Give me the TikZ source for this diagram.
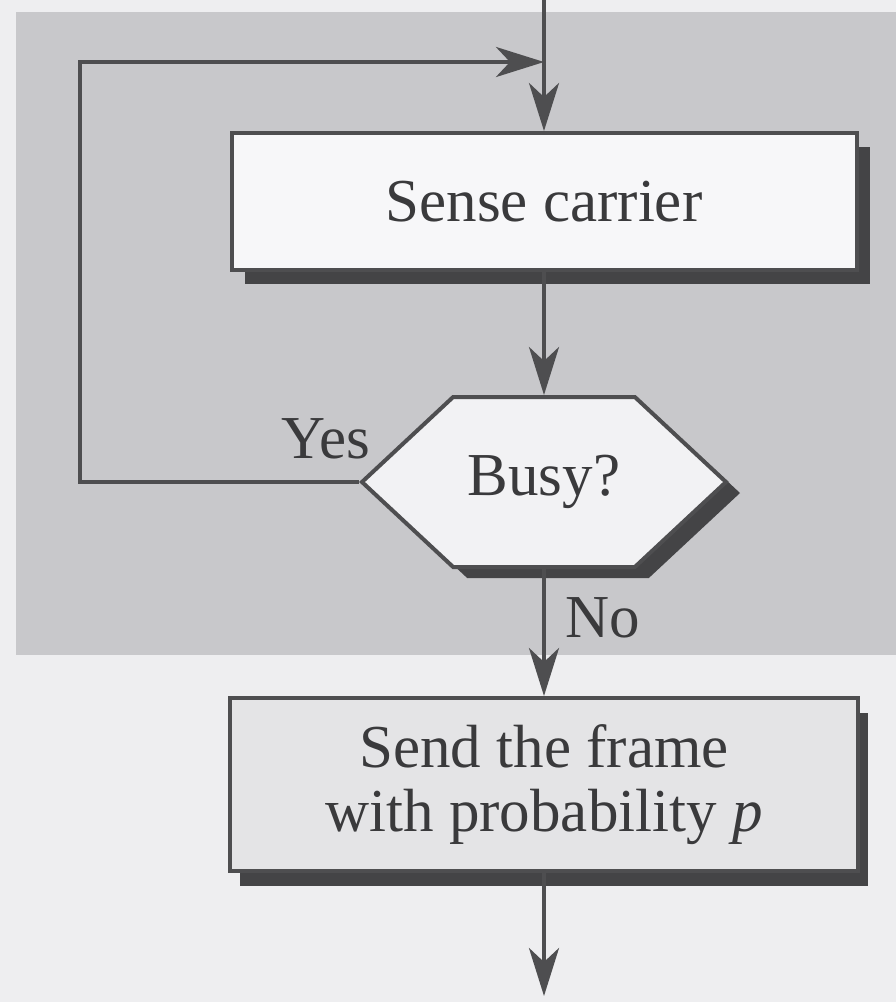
\documentclass[tikz,border=0pt]{standalone}
\usepackage{fontspec}
\setmainfont{Liberation Serif}
\usetikzlibrary{arrows.meta,shapes.symbols,shadows}

\definecolor{paper}{RGB}{238,238,240}
\definecolor{band}{RGB}{200,200,203}
\definecolor{inkc}{RGB}{58,58,60}
\definecolor{linec}{RGB}{78,78,80}
\definecolor{shadowc}{RGB}{68,68,70}
\definecolor{boxwhite}{RGB}{247,247,249}
\definecolor{hexfill}{RGB}{242,242,244}
\definecolor{sendfill}{RGB}{228,228,230}

\tikzset{
  flowtext/.style={text=inkc, font=\fontsize{61}{64}\selectfont},
  procbox/.style={flowtext, draw=linec, line width=4pt, inner sep=0pt, align=center},
  decision/.style={flowtext, shape=signal, signal to=west and east,
    signal pointer angle=86, draw=linec, line width=4pt, fill=hexfill,
    inner sep=0pt, minimum width=364pt, minimum height=170pt},
  flow/.style={draw=linec, line width=4pt,
    -{Stealth[length=48pt, width=30pt, inset=14pt]}},
  label/.style={flowtext, anchor=base, inner sep=0pt}
}

\begin{document}
\begin{tikzpicture}[x=1pt, y=-1pt]
  % page and shaded band
  \fill[paper] (0,0) rectangle (896,1002);
  \useasboundingbox (0,0) rectangle (896,1002);
  \fill[band] (16,12) rectangle (896,655);

  % process and decision nodes
  \node[procbox, fill=boxwhite, minimum width=625pt, minimum height=137pt,
    drop shadow={shadow xshift=13pt, shadow yshift=-14pt, fill=shadowc, opacity=1}]
    (sense) at (544,201.5) {Sense carrier};
  \node[decision,
    drop shadow={shadow xshift=14pt, shadow yshift=-11pt, fill=shadowc, opacity=1}]
    (busy) at (544,482) {Busy?};
  \node[procbox, fill=sendfill, minimum width=628pt, minimum height=173pt,
    drop shadow={shadow xshift=10pt, shadow yshift=-15pt, fill=shadowc, opacity=1}]
    (send) at (544,784.5) {Send the frame\\with probability \textit{p}};

  % branch labels
  \node[label] (yes) at (326,458) {Yes};
  \node[label] (no) at (603,637) {No};

  % free ends of the flow
  \coordinate (entry) at (544,0);
  \coordinate (join) at (544,62);
  \coordinate (exit) at (544,996);

  % connectors
  \draw[flow] (entry) -- (sense.north);
  \draw[flow] (busy.west) -- (80,482) |- (join);
  \draw[flow] (sense.south) -- (busy.north);
  \draw[flow] (busy.south) -- (send.north);
  \draw[flow] (send.south) -- (exit);
\end{tikzpicture}
\end{document}
